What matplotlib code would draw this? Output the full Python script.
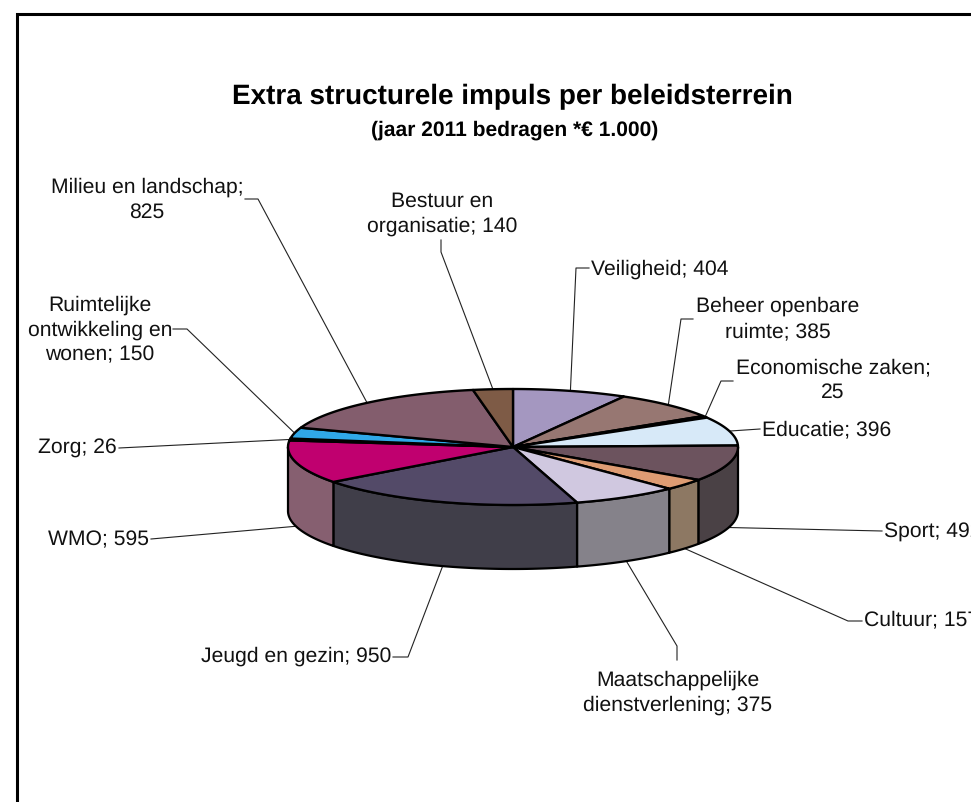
import numpy as np
import matplotlib
matplotlib.use("Agg")
import matplotlib.pyplot as plt

plt.rcParams["font.family"] = ["Liberation Sans", "DejaVu Sans"]
plt.rcParams["text.hinting"] = "no_hinting"

TITLE = "Extra structurele impuls per beleidsterrein"
SUBTITLE = "(jaar 2011 bedragen *€ 1.000)"

# clockwise from 12 o'clock
names = ["Veiligheid", "Beheer openbare\nruimte", "Economische zaken;\n", "Educatie", "Sport",
         "Cultuur", "Maatschappelijke\ndienstverlening", "Jeugd en gezin", "WMO", "Zorg",
         "Ruimtelijke\nontwikkeling en\nwonen", "Milieu en landschap;\n", "Bestuur en\norganisatie"]
values = [404, 385, 25, 396, 492, 157, 375, 950, 595, 26, 150, 825, 140]
top_colors = ["#A497C0", "#977772", "#1A1A1A", "#D7E9F8", "#6C535E", "#DE9C73", "#D0C8E0",
              "#534A68", "#C0006F", "#1A1A2A", "#30A8E8", "#835D6D", "#7E5B46"]
side_colors = ["#A497C0", "#977772", "#1A1A1A", "#D7E9F8", "#4A4145", "#8D7863", "#85828A",
               "#403E49", "#865F70", "#1A1A2A", "#30A8E8", "#835D6D", "#7E5B46"]

# pie geometry in image pixels
CX, CY, RX, RY, DEPTH = 513, 447, 225, 58, 64

# label anchor (x, y, ha) and elbow of the leader line, per slice
label_pos = [(591, 269, "left"), (778, 319, "center"), (833, 380, "center"), (762, 430, "left"),
             (884, 532, "left"), (864, 620, "left"), (678, 693, "center"), (391, 656, "right"),
             (149, 540, "right"), (117, 448, "right"), (100, 330, "center"), (147, 200, "center"),
             (442, 214, "center")]
leader_start = [(589, 268), (693, 319), (733, 381), (760, 429), (882, 531), (862, 621), (677, 660),
                (393, 657), (151, 539), (119, 448), (173, 329), (245, 199), (441, 240)]
leader_elbow = [(576, 268), (681, 319), (721, 381), None, None, (848, 621), (677, 646),
                (408, 657), None, None, (187, 329), (258, 199), (441, 252)]


def rim(t):
    t = np.radians(t)
    return CX + RX * np.sin(t), CY - RY * np.cos(t)


fig = plt.figure(figsize=(9.71, 8.02), dpi=100)
ax = fig.add_axes([0, 0, 1, 1])
ax.set_xlim(0, 971)
ax.set_ylim(802, 0)
ax.axis("off")

# outer frame runs off the crop on the right and bottom
ax.plot([17, 17, 975], [806, 14, 14], color="black", lw=2.2, solid_joinstyle="miter")

ax.text(512, 97, TITLE, ha="center", va="center", fontsize=20.1, fontweight="bold")
ax.text(515, 130, SUBTITLE, ha="center", va="center", fontsize=15.1, fontweight="bold")

edges = np.concatenate([[0], np.cumsum(values)]) / sum(values) * 360

# side walls, only the part of the rim facing the viewer
for i in range(len(values)):
    a, b = max(edges[i], 90), min(edges[i + 1], 270)
    if a >= b:
        continue
    x, y = rim(np.linspace(a, b, 80))
    ax.fill(np.r_[x, x[::-1]], np.r_[y, y[::-1] + DEPTH], facecolor=side_colors[i],
            edgecolor="black", lw=1.6, zorder=3, joinstyle="round")

# top faces
for i in range(len(values)):
    x, y = rim(np.linspace(edges[i], edges[i + 1], 80))
    ax.fill(np.r_[CX, x], np.r_[CY, y], facecolor=top_colors[i], edgecolor="black",
            lw=1.7, zorder=4, joinstyle="round")

# labels and leader lines
for i, (name, val) in enumerate(zip(names, values)):
    lx, ly, ha = label_pos[i]
    sep = "" if name.endswith("\n") else "; "
    ax.text(lx, ly, f"{name}{sep}{val}", ha=ha, va="center", fontsize=15.2,
            color="#111111", linespacing=1.36, multialignment="center")
    mid = (edges[i] + edges[i + 1]) / 2
    ex, ey = rim(mid)
    if 90 < mid < 270:
        ey += DEPTH
    pts = [leader_start[i]] + ([leader_elbow[i]] if leader_elbow[i] else []) + [(ex, ey)]
    ax.plot(*zip(*pts), color="#222222", lw=0.8, zorder=2)

fig.savefig("out.png", dpi=100)
plt.close(fig)
